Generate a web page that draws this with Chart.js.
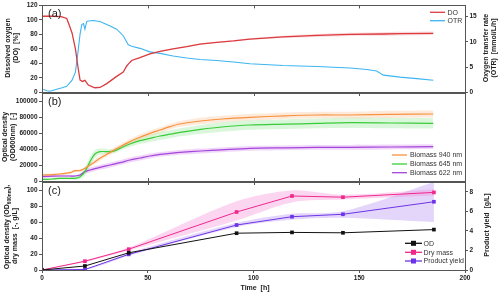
<!DOCTYPE html>
<html>
<head>
<meta charset="utf-8">
<script src="https://cdn.jsdelivr.net/npm/chart.js@4.4.0/dist/chart.umd.min.js"></script>
<style>
  html, body { margin: 0; padding: 0; background: #fff; }
  #wrap { position: relative; width: 500px; height: 294px; }
  #wrap canvas { position: absolute; left: 0; top: 0; }
</style>
</head>
<body>
<div id="wrap">
  <canvas id="panelA" width="500" height="294"></canvas>
  <canvas id="panelB" width="500" height="294"></canvas>
  <canvas id="panelC" width="500" height="294"></canvas>
</div>
<script>
// Three stacked panels sharing one time axis (0-200 h).
// Each panel is its own Chart on a full-size transparent canvas; layout
// padding puts its plot area in the right strip.

const FONT = "'Liberation Sans', Arial, sans-serif";

// ---- tick labels
const timeTicks  = [0, 50, 100, 150, 200];
const doTicks    = [0, 20, 40, 60, 80, 100, 120];
const otrTicks   = [0, 5, 10, 15];
const odTicks    = [0, 20000, 40000, 60000, 80000, 100000];
const massTicks  = [0, 20, 40, 60, 80, 100];
const yieldTicks = [0, 2, 4, 6, 8];

// ---- (a) dissolved oxygen [%] and oxygen transfer rate [mmol/L/h]
const doTime   = [0, 5, 9, 11.7, 12.6, 14.2, 15.8, 16.9, 18, 19.1, 20.3, 21.9, 25, 27.4, 30.6, 35.3, 38.4, 40, 40.8, 42.4,
                  46.3, 51, 55.8, 62, 68.4, 74.7, 82.6, 90.5, 98.3, 114, 130, 145.6, 161.4, 169.3, 185];
const doValues = [105, 105, 104.5, 102, 95, 82, 60, 37, 17, 15, 16.5, 10, 6.3, 6.7, 12, 22, 28, 36, 39, 44,
                  48, 53, 56.5, 60, 63, 66.5, 69, 71, 73.5, 76.5, 78.5, 80, 80.5, 81, 81.5];
const doSpread = [0.5, 0.5, 0.5, 0.5, 0.5, 0.5, 0.5, 0.5, 0.5, 0.5, 0.5, 0.5, 0.5, 0.5, 0.5, 0.5, 0.5, 0.5, 0.5, 0.5,
                  0.6, 0.6, 0.7, 0.7, 0.8, 0.8, 0.9, 1, 1, 1.5, 2, 2.2, 2.5, 2.5, 2.5];

const otrTime   = [0.6, 2.2, 3.8, 6.9, 9.5, 11.7, 14.2, 15.8, 16.9, 18, 18.8, 19.6, 20.3, 21.1, 21.9, 24.1, 27.4, 32.2, 35.3, 38.4,
                   40.8, 42.4, 46.3, 51, 55.8, 62, 68.4, 74.7, 82.6, 90.5, 98.3, 114, 130, 145.6, 153.5, 158.2, 161.4, 169.3, 177.2, 185];
const otrValues = [0.6, 0.3, 0.2, 0.6, 0.9, 1.2, 2.4, 4.0, 7.6, 11.5, 13.4, 13.6, 12.5, 14.0, 14.1, 14.2, 14.0, 13.1, 12.5, 11.2,
                   9.4, 9.1, 8.7, 8.0, 7.7, 7.2, 6.8, 6.5, 6.3, 6.0, 5.65, 5.3, 5.1, 4.8, 4.5, 4.2, 3.4, 3.0, 2.7, 2.4];

// ---- (b) optical density [-]
const bmTime = [0, 5, 8.5, 13.2, 15.6, 18, 20.3, 22.7, 25, 27.4, 32.2, 34.6, 36.9, 41.6, 46.3, 51, 55.8, 60.5, 65.2,
                75, 85, 98.3, 115, 130, 145.6, 165, 185];
const bm940  = [7500, 8000, 8750, 10400, 12900, 12900, 15800, 20000, 24000, 28300, 35800, 39500, 42900, 49200, 54600, 59600, 63750, 67900, 71250,
                75000, 77500, 79600, 81500, 82500, 82500, 83300, 83750];
const bm645  = [2000, 2500, 3300, 3300, 3300, 5400, 11700, 24200, 33800, 36700, 36700, 37900, 40800, 46250, 50400, 53300, 56250, 58500, 60800,
                64500, 67500, 70000, 71000, 72000, 72900, 72500, 72000];
const bm622  = [5500, 6000, 6250, 6250, 6250, 7500, 11700, 13750, 15500, 17100, 20000, 21500, 22900, 26250, 28750, 31250, 33300, 34600, 35800,
                37500, 39000, 40800, 41500, 42100, 42100, 42500, 42900];
const sd940  = [1500, 1500, 1500, 1500, 1500, 1500, 2000, 2500, 3000, 3000, 3000, 3000, 3000, 3500, 3500, 3500, 3500, 3500, 3500,
                4000, 4000, 4000, 4000, 4000, 4000, 4500, 4500];
const sd645  = [1500, 1500, 1500, 1500, 2000, 3000, 5000, 6000, 5000, 4000, 3000, 3000, 3000, 3500, 4000, 4500, 5000, 5000, 5000,
                5500, 6000, 6000, 6000, 6000, 6500, 6500, 6500];
const sd622  = [1500, 1500, 1500, 1500, 1500, 2000, 2500, 3000, 3000, 3000, 3000, 3000, 3000, 3000, 3000, 3000, 3000, 3000, 3000,
                3000, 3000, 3000, 3000, 3000, 3000, 3000, 3000];

// ---- (c) offline samples
const labTime     = [0, 20.3, 41, 92, 118.2, 142.3, 185.3];
const odValues    = [0, 5, 21.5, 46, 47, 46.5, 50.5];
const dryMass     = [0, 11, 26, 72.5, 92.5, 91, 97];
const dryHi       = [0, 12, 28, 86, 99.5, 94, 101];
const dryLo       = [0, 10, 24.5, 62, 84.5, 88, 93];
const yieldValues = [0, 0.05, 1.6, 4.6, 5.45, 5.7, 6.98];
const yieldHi     = [0, 0.1, 1.75, 4.8, 5.75, 6.0, 9.0];
const yieldLo     = [0, 0, 1.45, 4.4, 5.15, 5.35, 4.9];

const C = {
  red: '#dc3b40', blue: '#3db5f2',
  orange: '#f7923e', green: '#3acc38', violet: '#a545da',
  black: '#111111', pink: '#f0288a', purple: '#6b34e6'
};

Chart.defaults.font.family = FONT;
Chart.defaults.color = '#222';

const pts = (ts, vs) => ts.map((t, i) => ({ x: t, y: vs[i] }));

function line(label, ts, vs, color, axis, extra) {
  return Object.assign({
    label, data: pts(ts, vs), yAxisID: axis,
    borderColor: color, backgroundColor: color,
    borderWidth: 1.2, pointRadius: 0, tension: 0, fill: false, order: 1
  }, extra || {});
}

// upper edge fills down to the lower edge pushed right after it
function band(ts, hi, lo, color, axis) {
  const common = { yAxisID: axis, borderWidth: 0, pointRadius: 0, tension: 0.3, order: 5 };
  return [
    Object.assign({ data: pts(ts, hi), fill: '+1', backgroundColor: color, borderColor: 'transparent' }, common),
    Object.assign({ data: pts(ts, lo), fill: false, borderColor: 'transparent' }, common)
  ];
}

const tickFont = { size: 6.5, weight: 'bold' };

function xScale(show) {
  return {
    type: 'linear', min: 0, max: 200,
    afterBuildTicks: s => { s.ticks = timeTicks.map(v => ({ value: v })); },
    afterFit: s => { s.height = show ? 24 : 0; },
    ticks: { display: show, font: tickFont, color: '#222', padding: 1, maxRotation: 0, callback: v => String(v) },
    grid: { display: show, drawOnChartArea: false, tickLength: 3, color: '#555' },
    border: { display: false }
  };
}

function yScale(pos, min, max, ticks, width) {
  return {
    type: 'linear', position: pos, min, max,
    afterBuildTicks: s => { s.ticks = ticks.map(v => ({ value: v })); },
    afterFit: s => { s.width = width; },
    ticks: { font: tickFont, color: '#222', padding: 1.5, autoSkip: false, callback: v => String(v) },
    grid: { drawOnChartArea: false, tickLength: 3, color: '#555' },
    border: { display: false }
  };
}

// frame, inner x ticks, panel tag, rotated axis titles and legend
const decor = {
  id: 'decor',
  afterDraw(chart, args, o) {
    const { ctx, chartArea: a } = chart;
    const px = v => Math.round(v) + 0.5;
    ctx.save();
    ctx.strokeStyle = '#555';
    ctx.lineWidth = 1;
    ctx.strokeRect(px(a.left), px(a.top), Math.round(a.right - a.left), Math.round(a.bottom - a.top));

    const xs = chart.scales.x;
    ctx.beginPath();
    timeTicks.slice(1, -1).forEach(v => {
      const x = px(xs.getPixelForValue(v));
      if (o.tickTop) { ctx.moveTo(x, a.top); ctx.lineTo(x, a.top + 3); }
      if (o.tickBottom) { ctx.moveTo(x, a.bottom); ctx.lineTo(x, a.bottom - 3); }
    });
    ctx.stroke();

    ctx.fillStyle = '#222';
    ctx.font = `11px ${FONT}`;
    ctx.textBaseline = 'middle';
    ctx.textAlign = 'left';
    ctx.fillText(o.tag, a.left + 6, a.top + 9);

    (o.titles || []).forEach(t => {
      ctx.save();
      ctx.translate(t.x, t.y);
      if (t.rot) ctx.rotate(-Math.PI / 2);
      const parts = t.parts || [{ text: t.text }];
      const fontOf = p => `bold ${p.size || 7}px ${FONT}`;
      let w = 0;
      parts.forEach(p => { ctx.font = fontOf(p); w += ctx.measureText(p.text).width; });
      let x = -w / 2;
      ctx.textAlign = 'left';
      parts.forEach(p => {
        ctx.font = fontOf(p);
        ctx.fillText(p.text, x, p.dy || 0);
        x += ctx.measureText(p.text).width;
      });
      ctx.restore();
    });

    const lg = o.legend;
    if (lg) {
      ctx.font = `7px ${FONT}`;
      ctx.textAlign = 'left';
      lg.items.forEach(it => {
        ctx.strokeStyle = it.color;
        ctx.lineWidth = 1.3;
        ctx.beginPath();
        ctx.moveTo(lg.x1, it.y); ctx.lineTo(lg.x2, it.y);
        ctx.stroke();
        if (lg.marker) {
          ctx.fillStyle = it.color;
          const mx = (lg.x1 + lg.x2) / 2;
          ctx.fillRect(mx - 2.5, it.y - 2.5, 5, 5);
        }
        ctx.fillStyle = '#333';
        ctx.fillText(it.label, lg.tx, it.y + 0.5);
      });
    }
    ctx.restore();
  }
};

function baseOptions(top, bottom, right) {
  return {
    responsive: false, animation: false, devicePixelRatio: 1,
    layout: { padding: { left: 0, right: right, top: top, bottom: bottom } },
    plugins: { legend: { display: false }, tooltip: { enabled: false } }
  };
}

// ---------- (a)
const optA = baseOptions(4, 294 - 92.3, 0);
optA.scales = {
  x: xScale(false),
  y: yScale('left', 0, 120, doTicks, 42),
  y2: yScale('right', 0, 17.2, otrTicks, 35)
};
optA.plugins.decor = {
  tag: '(a)', tickTop: true,
  titles: [
    { text: 'Dissolved oxygen', x: 8.5, y: 48, rot: true },
    { text: '(DO)  [%]', x: 16.5, y: 48, rot: true },
    { text: 'Oxygen transfer rate', x: 486.5, y: 48, rot: true },
    { text: '(OTR)  [mmol/L/h]', x: 494, y: 48, rot: true }
  ],
  legend: { x1: 430, x2: 445, tx: 447.5, items: [
    { label: 'DO', color: C.red, y: 12.3 },
    { label: 'OTR', color: C.blue, y: 20.7 }
  ] }
};
new Chart(document.getElementById('panelA'), {
  type: 'line',
  data: { datasets: [
    line('DO', doTime, doValues, C.red, 'y', { borderWidth: 1.3 }),
    line('OTR', otrTime, otrValues, C.blue, 'y2', { borderWidth: 1.1 }),
    ...band(doTime, doValues.map((v, i) => v + doSpread[i]), doValues.map((v, i) => v - doSpread[i]), 'rgba(230,90,100,0.22)', 'y')
  ] },
  options: optA,
  plugins: [decor]
});

// ---------- (b)
const optB = baseOptions(93, 294 - 181, 35);
optB.scales = {
  x: xScale(false),
  y: yScale('left', 0, 110000, odTicks, 42)
};
optB.plugins.decor = {
  tag: '(b)', tickTop: true, tickBottom: true,
  titles: [
    { text: 'Optical density', x: 5.5, y: 137, rot: true },
    { text: '(OD600nm)  [-]', x: 13, y: 137, rot: true }
  ],
  legend: { x1: 392, x2: 407, tx: 410, items: [
    { label: 'Biomass 940 nm', color: C.orange, y: 155 },
    { label: 'Biomass 645 nm', color: C.green, y: 164 },
    { label: 'Biomass 622 nm', color: C.violet, y: 172.7 }
  ] }
};
const hi = (v, s) => v.map((x, i) => x + s[i]);
const lo = (v, s) => v.map((x, i) => x - s[i]);
new Chart(document.getElementById('panelB'), {
  type: 'line',
  data: { datasets: [
    line('Biomass 940 nm', bmTime, bm940, C.orange, 'y', { tension: 0.3 }),
    line('Biomass 645 nm', bmTime, bm645, C.green, 'y', { tension: 0.3 }),
    line('Biomass 622 nm', bmTime, bm622, C.violet, 'y', { tension: 0.3 }),
    ...band(bmTime, hi(bm940, sd940), lo(bm940, sd940), 'rgba(250,170,110,0.25)', 'y'),
    ...band(bmTime, hi(bm645, sd645), lo(bm645, sd645), 'rgba(110,225,110,0.25)', 'y'),
    ...band(bmTime, hi(bm622, sd622), lo(bm622, sd622), 'rgba(200,110,235,0.28)', 'y')
  ] },
  options: optB,
  plugins: [decor]
});

// ---------- (c)
const optC = baseOptions(182, 0, 0);
optC.scales = {
  x: xScale(true),
  y: yScale('left', 0, 110, massTicks, 42),
  y2: yScale('right', 0, 9, yieldTicks, 35)
};
optC.plugins.decor = {
  tag: '(c)', tickTop: true,
  titles: [
    { parts: [{ text: 'Optical density (OD' }, { text: '600nm', size: 4.8, dy: 1.8 }, { text: '),' }], x: 7.5, y: 227, rot: true },
    { text: 'dry mass  [-, g/L]', x: 15.5, y: 236, rot: true },
    { text: 'Product yield  [g/L]', x: 487, y: 225, rot: true },
    { text: 'Time  [h]', x: 255, y: 288.5 }
  ],
  legend: { x1: 405, x2: 422, tx: 423.5, marker: true, items: [
    { label: 'OD', color: C.black, y: 243.3 },
    { label: 'Dry mass', color: C.pink, y: 252.3 },
    { label: 'Product yield', color: C.purple, y: 261 }
  ] }
};
const sq = { pointRadius: 2.6, pointStyle: 'rect', pointBorderWidth: 0, borderWidth: 1 };
new Chart(document.getElementById('panelC'), {
  type: 'line',
  data: { datasets: [
    line('OD', labTime, odValues, C.black, 'y', sq),
    line('Dry mass', labTime, dryMass, C.pink, 'y', sq),
    line('Product yield', labTime, yieldValues, C.purple, 'y2', sq),
    ...band(labTime, dryHi, dryLo, 'rgba(245,120,210,0.3)', 'y'),
    ...band(labTime, yieldHi, yieldLo, 'rgba(165,120,240,0.3)', 'y2')
  ] },
  options: optC,
  plugins: [decor]
});
</script>
</body>
</html>
